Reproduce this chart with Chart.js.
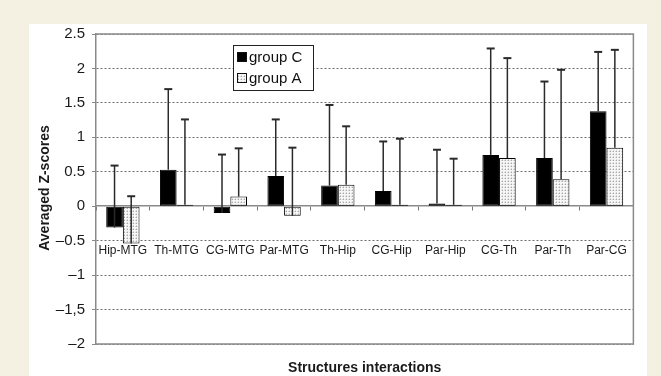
<!DOCTYPE html>
<html>
<head>
<meta charset="utf-8">
<script src="https://cdn.jsdelivr.net/npm/chart.js@4.4.1/dist/chart.umd.min.js"></script>
<style>
  html, body { margin: 0; padding: 0; background: #f4f1e3; }
  #wrap { width: 661px; height: 376px; }
</style>
</head>
<body>
<div id="wrap"><canvas id="zChart" width="661" height="376"></canvas></div>
<script>
// chart data
const categories = ['Hip-MTG', 'Th-MTG', 'CG-MTG', 'Par-MTG', 'Th-Hip', 'CG-Hip', 'Par-Hip', 'CG-Th', 'Par-Th', 'Par-CG'];
const groupC = [-0.31, 0.53, -0.10, 0.44, 0.30, 0.22, 0.04, 0.745, 0.70, 1.38];
const groupA = [-0.54, 0.02, 0.14, -0.14, 0.31, 0.02, 0.02, 0.70, 0.39, 0.85];
// upper error bar length (one sided)
const errC = [0.90, 1.17, 0.85, 0.82, 1.17, 0.72, 0.78, 1.545, 1.11, 0.86];
const errA = [0.685, 1.24, 0.70, 0.99, 0.85, 0.96, 0.67, 1.45, 1.59, 1.42];
const yTickLabels = ['\u20132', '\u20131,5', '\u20131', '\u20130.5', '0', '0.5', '1', '1.5', '2', '2.5'];

// dotted fill for group A
function makeDots() {
	const c = document.createElement('canvas');
	c.width = 3; c.height = 3;
	const g = c.getContext('2d');
	g.fillStyle = '#f6f6f6';
	g.fillRect(0, 0, 3, 3);
	g.fillStyle = '#a8a8a8';
	g.fillRect(1, 1, 1, 1);
	g.fillStyle = '#d6d6d6';
	g.fillRect(0, 1, 1, 1);
	g.fillRect(1, 0, 1, 1);
	return document.getElementById('zChart').getContext('2d').createPattern(c, 'repeat');
}
const dots = makeDots();
const errors = [errC, errA];

const FONT = "'Liberation Sans', Arial, Helvetica, sans-serif";

const panelBg = {
	id: 'panelBg',
	beforeDraw(chart) {
		const ctx = chart.ctx;
		ctx.save();
		ctx.fillStyle = '#f4f1e3';
		ctx.fillRect(0, 0, chart.width, chart.height);
		ctx.fillStyle = '#ffffff';
		ctx.fillRect(29, 24, 618, chart.height - 24);
		ctx.restore();
	}
};

const errorBars = {
	id: 'errorBars',
	afterDatasetsDraw(chart) {
		const ctx = chart.ctx;
		const y = chart.scales.y;
		ctx.save();
		ctx.strokeStyle = '#2a2a2a';
		chart.data.datasets.forEach((ds, di) => {
			const meta = chart.getDatasetMeta(di);
			meta.data.forEach((bar, i) => {
				const v = ds.data[i];
				const y0 = y.getPixelForValue(v);
				const y1 = y.getPixelForValue(v + errors[di][i]);
				ctx.lineWidth = 1.5;
				ctx.beginPath();
				ctx.moveTo(bar.x, y0);
				ctx.lineTo(bar.x, y1);
				ctx.stroke();
				ctx.lineWidth = 2;
				ctx.beginPath();
				ctx.moveTo(bar.x - 4, y1);
				ctx.lineTo(bar.x + 4, y1);
				ctx.stroke();
			});
		});
		ctx.restore();
	}
};

const frameAndText = {
	id: 'frameAndText',
	afterDraw(chart) {
		const ctx = chart.ctx;
		const a = chart.chartArea;
		ctx.save();
		// plot frame
		ctx.strokeStyle = '#8a8a8a';
		ctx.lineWidth = 1.5;
		ctx.beginPath();
		ctx.moveTo(a.left, a.top);
		ctx.lineTo(a.right, a.top);
		ctx.lineTo(a.right, a.bottom);
		ctx.lineTo(a.left, a.bottom);
		ctx.stroke();

		// axis titles
		ctx.fillStyle = '#1a1a1a';
		ctx.font = 'bold 14px ' + FONT;
		ctx.textAlign = 'center';
		ctx.textBaseline = 'middle';
		ctx.fillText('Structures interactions', (a.left + a.right) / 2, 368);
		ctx.save();
		ctx.translate(45, 188);
		ctx.rotate(-Math.PI / 2);
		ctx.fillText('Averaged Z-scores', 0, 0);
		ctx.restore();

		// legend box
		const lx = 233, ly = 45, lw = 80, lh = 45;
		ctx.fillStyle = '#ffffff';
		ctx.fillRect(lx, ly, lw, lh);
		ctx.strokeStyle = '#222';
		ctx.lineWidth = 1;
		ctx.strokeRect(lx + 0.5, ly + 0.5, lw, lh);
		ctx.font = '15px ' + FONT;
		ctx.textAlign = 'left';
		chart.data.datasets.forEach((ds, i) => {
			const ry = ly + 12 + i * 21;
			ctx.fillStyle = ds.backgroundColor;
			ctx.fillRect(lx + 4, ry - 5, 10, 10);
			ctx.strokeStyle = '#111';
			ctx.strokeRect(lx + 4.5, ry - 4.5, 9, 9);
			ctx.fillStyle = '#111';
			ctx.fillText(ds.label, lx + 16, ry + 1);
		});
		ctx.restore();
	}
};

new Chart(document.getElementById('zChart'), {
	type: 'bar',
	data: {
		labels: categories,
		datasets: [
			{
				label: 'group C',
				data: groupC,
				backgroundColor: '#000000',
				borderColor: '#000000',
				borderWidth: 1,
				borderSkipped: false,
				barPercentage: 1,
				categoryPercentage: 0.62
			},
			{
				label: 'group A',
				data: groupA,
				backgroundColor: dots,
				borderColor: '#000000',
				borderWidth: 1,
				borderSkipped: false,
				barPercentage: 1,
				categoryPercentage: 0.62
			}
		]
	},
	options: {
		responsive: false,
		animation: false,
		layout: { padding: { top: 34, right: 23, bottom: 32, left: 0 } },
		plugins: {
			legend: { display: false },
			tooltip: { enabled: false }
		},
		scales: {
			x: {
				position: { y: 0 },
				offset: true,
				grid: {
					display: true,
					drawOnChartArea: false,
					drawTicks: true,
					tickLength: 4,
					color: '#777',
					offset: true
				},
				border: { display: true, color: '#8a8a8a', width: 1.5 },
				ticks: {
					padding: 33,
					color: '#1a1a1a',
					maxRotation: 0,
					autoSkip: false,
					font: { family: "'Liberation Sans Narrow', 'Arial Narrow', " + FONT, size: 12 }
				}
			},
			y: {
				min: -2,
				max: 2.5,
				afterFit(scale) { scale.width = 96; },
				ticks: {
					stepSize: 0.5,
					padding: 7,
					color: '#1a1a1a',
					font: { family: FONT, size: 15 },
					callback: (value, index) => yTickLabels[index]
				},
				grid: {
					color: (c) => (c.tick && c.tick.value === 0 ? 'rgba(0,0,0,0)' : '#6e6e6e'),
					tickColor: '#8a8a8a',
					tickLength: 4,
					tickBorderDash: [],
					lineWidth: 1
				},
				border: { display: true, color: '#8a8a8a', width: 1.5, dash: [2, 2] }
			}
		}
	},
	plugins: [panelBg, errorBars, frameAndText]
});
</script>
</body>
</html>
